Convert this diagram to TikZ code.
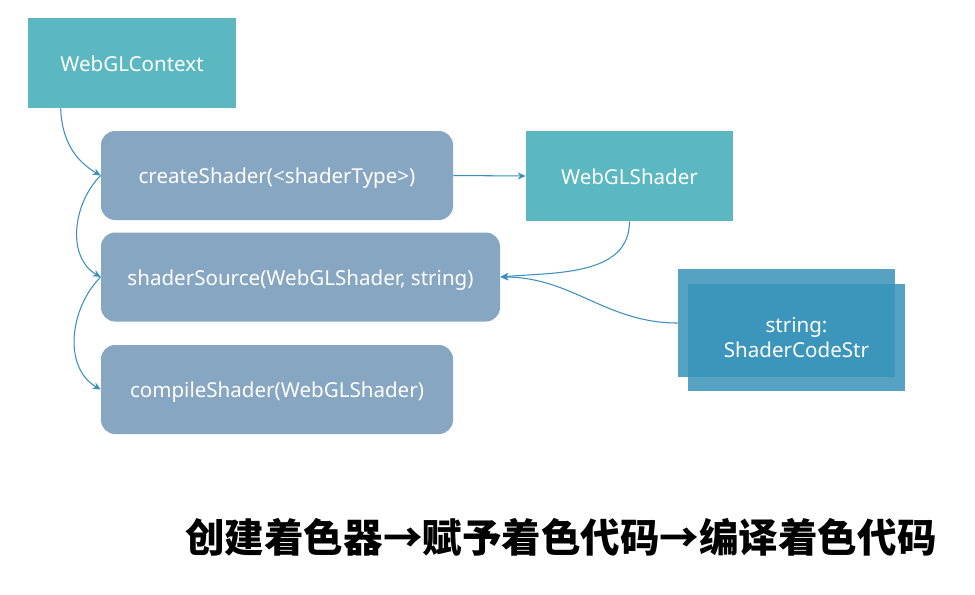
\documentclass[tikz,border=0pt]{standalone}
\usepackage{fontspec}
\setmainfont{Noto Sans}
\newfontfamily\cjk{Noto Sans CJK SC}
\usetikzlibrary{arrows.meta}
\definecolor{glteal}{RGB}{91,184,193}
\definecolor{glcall}{RGB}{135,166,194}
\definecolor{glstr}{RGB}{55,146,185}
\definecolor{gllink}{RGB}{58,143,190}

\begin{document}
\begin{tikzpicture}[
    every node/.style={font=\fontsize{11.7}{14}\selectfont, text=white},
    objbox/.style={rectangle, fill=glteal, minimum width=4.16cm, minimum height=1.8cm, text height=9.4pt, text depth=0pt},
    callbox/.style={rectangle, rounded corners=8pt, fill=glcall, minimum height=1.78cm, text height=9.4pt, text depth=0pt},
    strbox/.style={rectangle, fill=glstr, fill opacity=0.85, minimum width=4.34cm, minimum height=2.15cm},
    link/.style={-{Stealth[length=4.5pt, width=4pt]}, line width=0.6pt, draw=gllink}]

    \useasboundingbox (0,0) rectangle (19.5,-11.88);

    % WebGLContext
    \node[objbox] (ctx) at (2.64,-1.26) {WebGLContext};

    % calls
    \node[callbox, minimum width=7.04cm] (create) at (5.54,-3.51) {createShader(<shaderType>)};
    \node[callbox, minimum width=7.98cm] (source) at (6.01,-5.54) {shaderSource(WebGLShader, string)};
    \node[callbox, minimum width=7.04cm] (compile) at (5.54,-7.79) {compileShader(WebGLShader)};

    % WebGLShader
    \node[objbox, minimum width=4.14cm] (shader) at (12.59,-3.52) {WebGLShader};

    % string
    \node[strbox] (strback) at (15.73,-6.46) {};
    \node[strbox, text opacity=1, align=center] (str) at (15.93,-6.75) {string:\\ShaderCodeStr};

    % arrows
    \draw[link] ([xshift=0.66cm]ctx.south west) to[out=-88, in=150] (create.west);
    \draw[link] (create.west) to[out=-135, in=150] (source.west);
    \draw[link] (source.west) to[out=-135, in=150] (compile.west);
    \draw[link] (create.east) -- (shader.west);
    \draw[link] (shader.south) to[out=-90, in=5] (source.east);
    \draw[link] (strback.west) to[out=180, in=0] (source.east);

    % caption
    \node[text=black, font=\cjk\bfseries\fontsize{22.5}{27}\selectfont] (caption) at (11.22,-10.74) {创建着色器→赋予着色代码→编译着色代码};

\end{tikzpicture}
\end{document}
